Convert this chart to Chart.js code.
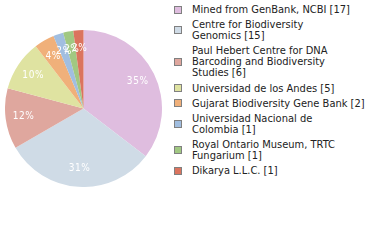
<!DOCTYPE html>
<html>
<head>
<meta charset="utf-8">
<script src="https://cdn.jsdelivr.net/npm/chart.js@4/dist/chart.umd.min.js"></script>
<style>
  html, body { margin: 0; padding: 0; background: #fff; }
  #wrap { position: relative; width: 380px; height: 240px; overflow: hidden; }
  #pie { position: absolute; left: 5px; top: 30px; }
  #legend {
    position: absolute; left: 174px; top: 4px; width: 206px;
    font-family: "DejaVu Sans Condensed", "DejaVu Sans", sans-serif;
    font-stretch: condensed;
    font-size: 11px; line-height: 11px; color: #222;
  }
  .item { display: flex; align-items: center; margin-bottom: 4.2px; }
  .box { flex: 0 0 auto; width: 8px; height: 8px; box-sizing: border-box;
         border: 1px solid #808080; margin-right: 10px; }
  .txt { white-space: nowrap; }
</style>
</head>
<body>
<div id="wrap">
  <canvas id="pie" width="157" height="157"></canvas>
  <div id="legend"></div>
</div>
<script>
// Specimen sources and their record counts
const sources = [
  "Mined from GenBank, NCBI",
  "Centre for Biodiversity Genomics",
  "Paul Hebert Centre for DNA Barcoding and Biodiversity Studies",
  "Universidad de los Andes",
  "Gujarat Biodiversity Gene Bank",
  "Universidad Nacional de Colombia",
  "Royal Ontario Museum, TRTC Fungarium",
  "Dikarya L.L.C."
];
const counts = [17, 15, 6, 5, 2, 1, 1, 1];
const colours = ["#dfbddf", "#cfdbe6", "#dfa79e", "#dfe3a1", "#f0b07a", "#a1bee0", "#a1c882", "#db745e"];

const total = counts.reduce((a, b) => a + b, 0);

// Percent labels placed inside each slice
const sliceLabels = {
  id: "sliceLabels",
  afterDatasetsDraw(chart) {
    const ctx = chart.ctx;
    const meta = chart.getDatasetMeta(0);
    ctx.save();
    ctx.fillStyle = "#ffffff";
    ctx.font = '10px "DejaVu Sans Condensed", "DejaVu Sans", sans-serif';
    if ("letterSpacing" in ctx) ctx.letterSpacing = "0.6px";
    ctx.textAlign = "center";
    ctx.textBaseline = "middle";
    meta.data.forEach((arc, i) => {
      const p = arc.getProps(["x", "y", "startAngle", "endAngle", "outerRadius"], true);
      const mid = (p.startAngle + p.endAngle) / 2;
      const r = p.outerRadius * 0.77;
      const pct = Math.floor(counts[i] / total * 100);
      ctx.fillText(pct + "%", p.x + Math.cos(mid) * r, p.y + Math.sin(mid) * r);
    });
    ctx.restore();
  }
};

new Chart(document.getElementById("pie"), {
  type: "pie",
  data: {
    labels: sources,
    datasets: [{
      data: counts,
      backgroundColor: colours,
      borderWidth: 0
    }]
  },
  options: {
    responsive: false,
    animation: false,
    layout: { padding: 0 },
    plugins: {
      legend: { display: false },
      tooltip: { enabled: false }
    }
  },
  plugins: [sliceLabels]
});

// Break a name into lines of at most `max` characters, on word boundaries
function wrapWords(text, max) {
  const lines = [];
  let line = "";
  text.split(" ").forEach(w => {
    if (line && (line + " " + w).length > max) {
      lines.push(line);
      line = w;
    } else {
      line = line ? line + " " + w : w;
    }
  });
  if (line) lines.push(line);
  return lines;
}

// Legend entries with counts
const legend = document.getElementById("legend");
sources.forEach((name, i) => {
  const item = document.createElement("div");
  item.className = "item";
  const box = document.createElement("span");
  box.className = "box";
  box.style.background = colours[i];
  const txt = document.createElement("span");
  txt.className = "txt";
  const lines = wrapWords(name, 30);
  lines[lines.length - 1] += " [" + counts[i] + "]";
  lines.forEach((l, k) => {
    if (k) txt.appendChild(document.createElement("br"));
    txt.appendChild(document.createTextNode(l));
  });
  item.appendChild(box);
  item.appendChild(txt);
  legend.appendChild(item);
});
</script>
</body>
</html>
